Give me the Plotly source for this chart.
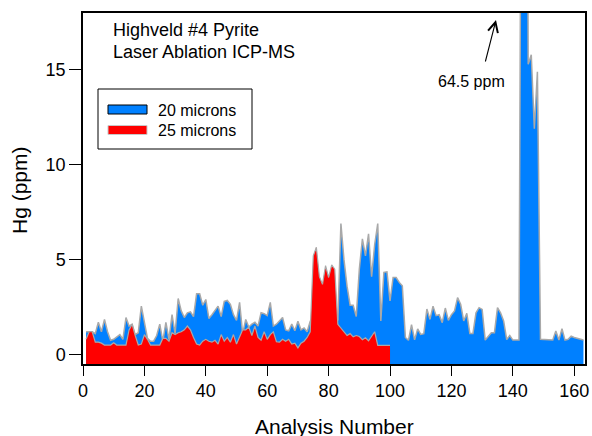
import plotly.graph_objects as go

# ---------------- data ----------------
analysis_20 = list(range(1, 164))
hg_20_microns = [
    1.2, 1.2, 1.2, 1.1, 1.7, 1.2, 1.85, 1.2, 0.75, 0.8,
    0.95, 1.05, 0.8, 1.95, 1.5, 1.6, 1.05, 1.15, 2.55, 1.7,
    0.85, 0.7, 0.7, 1.0, 1.6, 0.7, 1.7, 0.8, 2.1, 1.1,
    2.95, 2.3, 1.95, 2.2, 2.25, 2.0, 3.2, 3.2, 2.6, 2.9,
    1.9, 2.1, 2.3, 2.55, 2.0, 2.8, 2.85, 2.65, 2.1, 1.8,
    2.75, 1.1, 1.85, 1.45, 1.6, 1.7, 1.5, 2.2, 2.15, 2.05,
    2.75, 1.5, 1.6, 1.75, 1.95, 1.3, 1.25, 1.6, 1.25, 1.75,
    1.3, 1.4, 1.2, 1.75, 2.0, 2.0, 2.0, 2.0, 2.0, 2.0,
    2.0, 2.0, 1.8, 6.9, 5.0, 3.6, 2.6, 2.6, 2.0, 4.5,
    6.1, 5.2, 6.36, 4.1, 5.8, 6.9, 1.77, 4.33, 4.36, 2.82,
    4.06, 4.06, 3.8, 3.62, 0.9, 0.75, 1.57, 0.77, 1.35, 1.06,
    1.1, 2.4, 1.85, 2.55, 2.05, 2.1, 1.68, 2.45, 1.8, 2.1,
    2.3, 3.0, 2.65, 1.77, 2.17, 1.11, 1.11, 2.2, 2.47, 2.38,
    0.76, 0.97, 1.15, 1.15, 2.47, 2.2, 1.77, 0.79, 1.0, 0.76,
    0.76, 0.76, 40.0, 64.5, 15.3, 15.8, 11.9, 14.9, 0.8,
    0.79, 0.76, 0.76, 0.76, 1.24, 0.76, 1.36, 0.76, 0.8, 0.97,
    0.9, 0.85, 0.79, 0.76,
]

analysis_25 = list(range(1, 101))
hg_25_microns = [
    0.8, 1.2, 1.2, 0.65, 0.65, 0.6, 0.5, 0.5, 0.5, 0.62,
    0.5, 0.5, 0.5, 0.5, 1.3, 1.6, 1.0, 0.5, 0.55, 1.05,
    0.8, 0.5, 0.5, 0.5, 0.5, 0.85, 0.85, 0.7, 1.15, 1.05,
    1.15, 1.2, 1.3, 1.5, 1.3, 0.9, 0.55, 0.5, 0.7, 0.8,
    0.7, 0.65, 0.75, 0.55, 1.05, 0.7, 0.9, 0.65, 1.05, 0.55,
    0.9, 1.3, 1.3, 1.45, 1.0, 1.5, 0.9, 0.75, 1.2, 0.8,
    1.05, 1.2, 0.67, 0.65, 0.8, 0.7, 0.8, 0.55, 0.6, 0.35,
    0.6, 0.7, 0.9, 1.2, 5.2, 5.65, 4.1, 3.7, 4.68, 4.06,
    4.72, 4.5, 1.59, 1.4, 1.24, 1.0, 1.1, 0.93, 1.0, 0.95,
    0.78, 0.88, 0.72, 0.95, 1.2, 0.48, 0.48, 0.48, 0.48, 0.48,
]

series_names = ["20 microns", "25 microns"]
x_tick_values = [0, 20, 40, 60, 80, 100, 120, 140, 160]
y_tick_values = [0, 5, 10, 15]
peak_label = "64.5 ppm"
title_lines = ["Highveld #4 Pyrite", "Laser Ablation ICP-MS"]

# ---------------- layout helpers ----------------
W, H = 592, 436
PL, PR, PT, PB = 83, 585, 13, 364          # plot area in pixels
ML, MR, MT, MB = PL, W - PR, PT, H - PB
PW, PH = PR - PL, PB - PT
X_RANGE = [0, 163.5]
Y_RANGE = [-0.5, 18.0]


def px_x(px):
    return (px - PL) / PW


def px_y(py):
    return (PB - py) / PH


FONT = "Liberation Sans, Arial, Helvetica, sans-serif"
BLUE = "#0080ff"
RED = "#ff0000"
EDGE = "#a9a9a9"

fig = go.Figure()

# 20 microns (drawn first, behind)
fig.add_trace(go.Scatter(x=analysis_20, y=[Y_RANGE[0]] * len(analysis_20),
                         mode="lines", line=dict(width=0), showlegend=False,
                         hoverinfo="skip"))
fig.add_trace(go.Scatter(x=analysis_20, y=hg_20_microns, mode="lines",
                         fill="tonexty", fillcolor=BLUE,
                         line=dict(color=EDGE, width=1.5),
                         name=series_names[0], showlegend=False))
# 25 microns
fig.add_trace(go.Scatter(x=analysis_25, y=[Y_RANGE[0]] * len(analysis_25),
                         mode="lines", line=dict(width=0), showlegend=False,
                         hoverinfo="skip"))
fig.add_trace(go.Scatter(x=analysis_25, y=hg_25_microns, mode="lines",
                         fill="tonexty", fillcolor=RED,
                         line=dict(color=EDGE, width=1.2),
                         name=series_names[1], showlegend=False))

axis_common = dict(
    showline=True, linecolor="black", linewidth=1.5, mirror=True,
    ticks="outside", tickcolor="black", tickwidth=1,
    showgrid=False, zeroline=False, automargin=False,
    tickfont=dict(family=FONT, size=18, color="black"),
)

fig.update_layout(
    width=W, height=H,
    margin=dict(l=ML, r=MR, t=MT, b=MB, pad=0),
    paper_bgcolor="white", plot_bgcolor="white",
    font=dict(family=FONT, color="black"),
    xaxis=dict(range=X_RANGE, tickvals=x_tick_values, ticklen=10, **axis_common),
    yaxis=dict(range=Y_RANGE, tickvals=y_tick_values, ticklen=12, **axis_common),
    showlegend=False,
)

# ---- legend box drawn as shapes + text (matching the reference layout) ----
shapes = [
    dict(type="rect", xref="paper", yref="paper",
         x0=px_x(98), x1=px_x(252), y0=px_y(149), y1=px_y(89),
         line=dict(color="black", width=1), fillcolor="white", layer="above"),
    dict(type="rect", xref="paper", yref="paper",
         x0=px_x(108), x1=px_x(147), y0=px_y(114), y1=px_y(105),
         line=dict(color="black", width=1), fillcolor=BLUE, layer="above"),
    dict(type="rect", xref="paper", yref="paper",
         x0=px_x(108), x1=px_x(147), y0=px_y(134.5), y1=px_y(125.5),
         line=dict(color="#c8c8c8", width=1), fillcolor=RED, layer="above"),
]

annotations = [
    dict(text=series_names[0], x=px_x(156), y=px_y(110), xref="paper", yref="paper",
         xanchor="left", yanchor="middle", showarrow=False,
         font=dict(family=FONT, size=16, color="black")),
    dict(text=series_names[1], x=px_x(156), y=px_y(130.5), xref="paper", yref="paper",
         xanchor="left", yanchor="middle", showarrow=False,
         font=dict(family=FONT, size=16, color="black")),
    dict(text=title_lines[0], x=px_x(111), y=px_y(30), xref="paper", yref="paper",
         xanchor="left", yanchor="middle", showarrow=False,
         font=dict(family=FONT, size=18, color="black")),
    dict(text=title_lines[1], x=px_x(111), y=px_y(52), xref="paper", yref="paper",
         xanchor="left", yanchor="middle", showarrow=False,
         font=dict(family=FONT, size=18, color="black")),
    dict(text=peak_label, x=px_x(471), y=px_y(82), xref="paper", yref="paper",
         xanchor="center", yanchor="middle", showarrow=False,
         font=dict(family=FONT, size=16, color="black")),
    dict(text="", x=px_x(496), y=px_y(20), xref="paper", yref="paper",
         showarrow=True, ax=-11, ay=43, arrowhead=5, arrowsize=1.8,
         arrowwidth=1.1, arrowcolor="black"),
    dict(text="Analysis Number", x=px_x(334), y=px_y(426), xref="paper", yref="paper",
         xanchor="center", yanchor="middle", showarrow=False,
         font=dict(family=FONT, size=21, color="black")),
    dict(text="Hg (ppm)", x=px_x(19), y=px_y(190), xref="paper", yref="paper",
         xanchor="center", yanchor="middle", showarrow=False, textangle=-90,
         font=dict(family=FONT, size=21, color="black")),
]
fig.update_layout(shapes=shapes, annotations=annotations)

fig.write_html(
    "out.html",
    config={"displayModeBar": False},
    post_script="document.body.style.margin='0';document.body.style.overflow='hidden';",
)
